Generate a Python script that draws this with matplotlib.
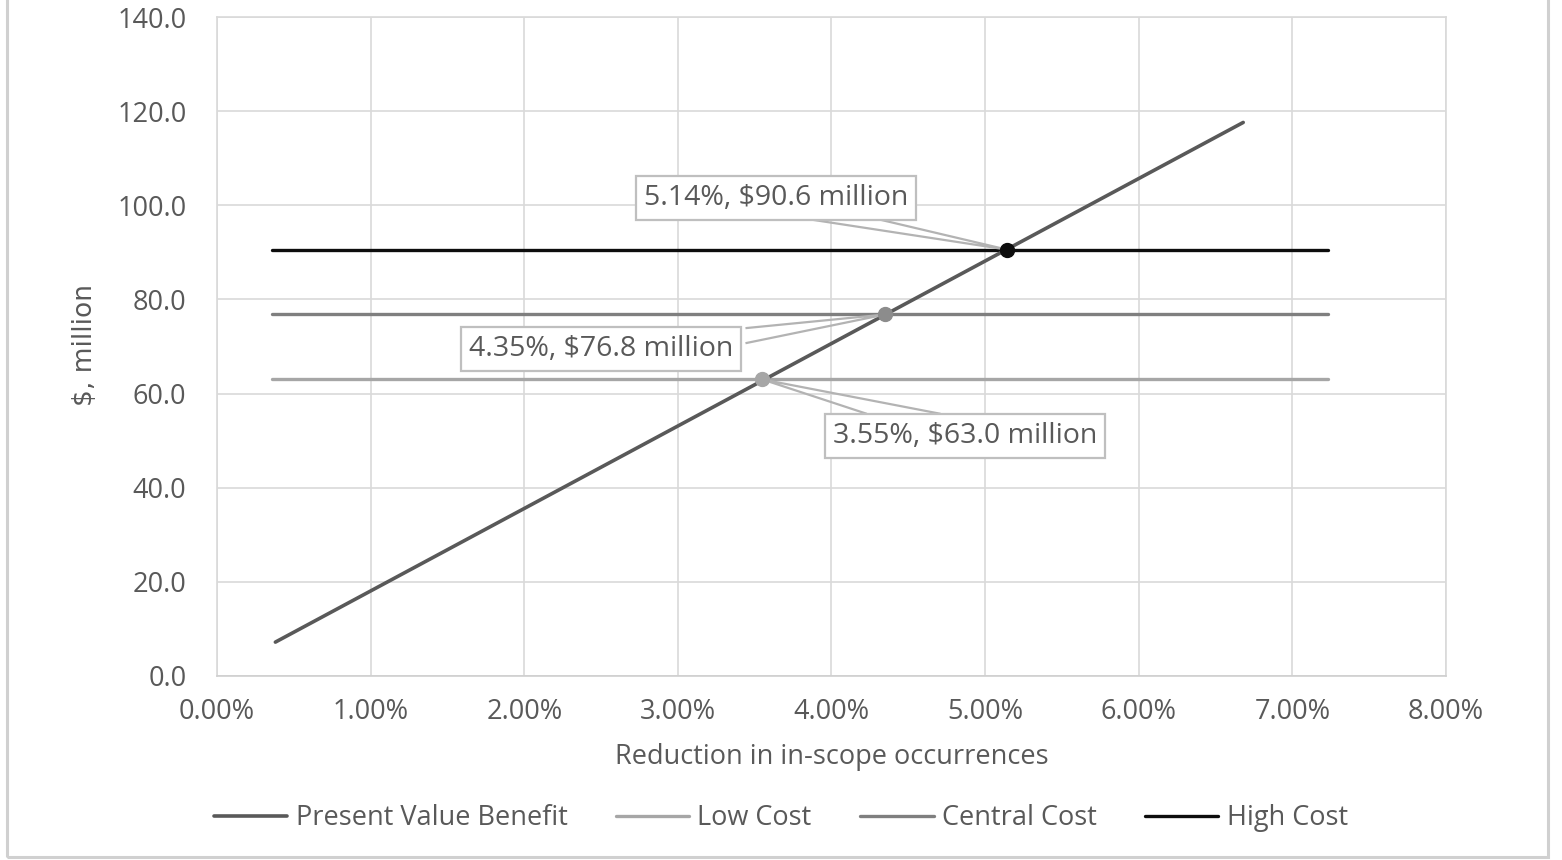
import matplotlib
matplotlib.use("Agg")
import matplotlib.pyplot as plt
from matplotlib.patches import Rectangle, Polygon
from matplotlib.ticker import FuncFormatter

plt.rcParams['font.family'] = ['Open Sans', 'DejaVu Sans']

# ---- data ----
pv_x = [0.38, 6.68]          # Reduction in in-scope occurrences (%)
pv_y = [7.2, 117.6]          # Present Value Benefit ($m)
cost_x = [0.36, 7.23]
low_cost = 63.0
central_cost = 76.8
high_cost = 90.6
cross_x = [3.55, 4.35, 5.14]
cross_y = [63.0, 76.8, 90.6]
cross_labels = ["3.55%, $63.0 million", "4.35%, $76.8 million", "5.14%, $90.6 million"]
series_names = ["Present Value Benefit", "Low Cost", "Central Cost", "High Cost"]
x_ticks = [0, 1, 2, 3, 4, 5, 6, 7, 8]
y_ticks = [0, 20, 40, 60, 80, 100, 120, 140]

TXT = '#595959'
GRID = '#d9d9d9'
c_pv = '#595959'
c_low = '#a6a6a6'
c_cen = '#7f7f7f'
c_high = '#0d0d0d'
FS = 19.5

fig = plt.figure(figsize=(15.62, 8.60), dpi=100)
fig.patches.append(Rectangle((7/1562, 3/860), 1541/1562, 880/860, transform=fig.transFigure,
                             fill=False, edgecolor='#d0d0d0', linewidth=2.2))
ax = fig.add_axes([217/1562, 1-676/860, 1229/1562, 659/860])

l1, = ax.plot(pv_x, pv_y, color=c_pv, lw=2.6, solid_capstyle='round', zorder=3)
l2, = ax.plot(cost_x, [low_cost]*2, color=c_low, lw=2.4, solid_capstyle='round', zorder=2)
l3, = ax.plot(cost_x, [central_cost]*2, color=c_cen, lw=2.4, solid_capstyle='round', zorder=2)
l4, = ax.plot(cost_x, [high_cost]*2, color=c_high, lw=2.4, solid_capstyle='round', zorder=2)

mcols = [c_low, '#8c8c8c', c_high]
for xx, yy, mc in zip(cross_x, cross_y, mcols):
    ax.plot([xx], [yy], 'o', ms=10, color=mc, mec=mc, zorder=5)

# callout layout: (text dx, text dy, wedge base points relative to point)
layout = [
    ((1.32, -12.0), [(0.68, -7.3), (1.16, -7.3)]),
    ((-1.85, -7.3), [(-0.91, -2.9), (-0.91, -6.1)]),
    ((-1.50, 10.9), [(-1.34, 6.7), (-0.87, 6.7)]),
]
for (xx, yy, lab), ((dx, dy), base) in zip(zip(cross_x, cross_y, cross_labels), layout):
    pts = [(xx + base[0][0], yy + base[0][1]), (xx, yy), (xx + base[1][0], yy + base[1][1])]
    ax.add_patch(Polygon(pts, closed=False, fill=False, edgecolor='#b3b3b3', lw=1.6, zorder=4))
    ax.text(xx + dx, yy + dy, lab, ha='center', va='center', fontsize=20.5, color=TXT, zorder=6,
            bbox=dict(boxstyle='square,pad=0.28', fc='white', ec='#bfbfbf', lw=1.6))

ax.set_xlim(0, 8)
ax.set_ylim(0, 140)
ax.set_xticks(x_ticks)
ax.set_yticks(y_ticks)
ax.xaxis.set_major_formatter(FuncFormatter(lambda v, p: f"{v:.2f}%"))
ax.yaxis.set_major_formatter(FuncFormatter(lambda v, p: f"{v:.1f}"))
ax.grid(True, color=GRID, lw=1.2)
ax.set_axisbelow(True)
for s in ax.spines.values():
    s.set_color(GRID)
    s.set_linewidth(1.2)
ax.spines['bottom'].set_color('#cfcfcf')
ax.tick_params(axis='both', length=0, labelsize=FS, labelcolor=TXT)
ax.tick_params(axis='x', pad=16)
ax.tick_params(axis='y', pad=22)

ax.set_xlabel("Reduction in in-scope occurrences", fontsize=FS, color=TXT, labelpad=12)
fig.text(85/1562, 1-345/860, "$, million", rotation=90, ha='center', va='center',
         fontsize=19, color=TXT, family=['Liberation Sans Narrow', 'DejaVu Sans'])

fig.legend([l1, l2, l3, l4], series_names, loc='center', bbox_to_anchor=(0.5, 1-818/860),
           ncol=4, frameon=False, fontsize=FS, labelcolor=TXT, handlelength=2.7,
           handletextpad=0.3, columnspacing=1.8)

fig.savefig("out.png", dpi=100, facecolor='white')
